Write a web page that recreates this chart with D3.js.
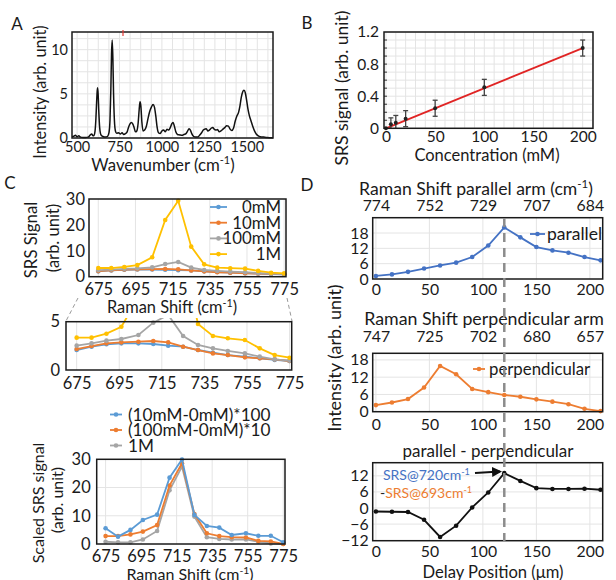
<!DOCTYPE html>
<html>
<head>
<meta charset="utf-8">
<script src="https://cdn.jsdelivr.net/npm/d3@7"></script>
<style>
body { margin: 0; background: #fff; }
text { font-family: Lato, "Liberation Sans", sans-serif; fill: #1a1a1a; }
</style>
</head>
<body>
<div id="fig"></div>
<script>
// ---- panel A: Raman spectrum (wavenumber, intensity) ----
var specPoints = [[470,0.15],[480,0.2],[490,0.3],[500,0.15],[510,0.25],[520,0.1],[535,0.05],[550,0.05],[565,0.1],[578,0.35],[586,0.45],[594,0.25],[600,0.3],[606,0.8],[611,2.2],[615,4.0],[619,5.4],[621,5.7],[624,5.0],[628,3.0],[633,1.2],[638,0.5],[645,0.25],[655,0.15],[668,0.1],[680,0.2],[688,0.6],[694,2.0],[699,5.5],[703,9.5],[707,11.1],[711,9.0],[715,5.0],[720,2.0],[726,0.8],[733,0.55],[745,0.6],[755,0.45],[765,0.6],[775,0.4],[785,0.5],[795,0.7],[803,1.2],[812,1.6],[820,1.75],[828,1.6],[836,1.2],[844,0.7],[852,0.8],[860,1.7],[866,3.2],[871,4.1],[876,3.6],[882,1.8],[889,0.8],[898,0.9],[908,1.3],[918,2.2],[928,3.0],[938,3.5],[948,3.8],[956,3.5],[964,2.5],[972,1.2],[980,0.6],[990,0.5],[1000,0.8],[1010,0.9],[1020,0.7],[1030,1.0],[1040,0.9],[1050,1.2],[1058,1.6],[1066,1.75],[1074,1.3],[1082,0.7],[1092,0.4],[1105,0.35],[1118,0.3],[1130,0.4],[1142,0.5],[1152,0.8],[1160,1.05],[1168,0.9],[1176,0.5],[1186,0.2],[1198,0.1],[1210,0.1],[1222,0.3],[1234,0.6],[1244,0.9],[1254,1.0],[1262,1.05],[1270,0.8],[1280,0.9],[1290,1.1],[1300,1.2],[1308,1.0],[1318,0.9],[1328,0.95],[1338,0.7],[1348,0.8],[1360,1.0],[1372,1.2],[1382,1.4],[1392,1.35],[1402,1.0],[1412,0.85],[1422,1.1],[1432,1.9],[1442,2.5],[1452,2.9],[1460,3.6],[1468,4.6],[1476,5.2],[1484,5.4],[1492,5.1],[1500,4.2],[1508,3.2],[1516,2.5],[1526,1.9],[1536,1.3],[1546,0.8],[1556,0.45],[1568,0.25],[1580,0.15],[1600,0.1],[1620,0.05],[1640,0.03],[1655,0.02]];
var specXTicks = [500, 750, 1000, 1250, 1500];
var specYTicks = [0, 5, 10];

// ---- panel B: concentration series ----
var concentration = [0, 5, 10, 20, 50, 100, 200];
var srsSignal = [0, 0.05, 0.07, 0.12, 0.25, 0.51, 1.0];
var srsError = [0, 0.08, 0.09, 0.1, 0.1, 0.1, 0.1];
var fitEnds = [0, 200];
var fitSlope = 0.005;

// ---- panel C ----
var ramanShift = [675, 682, 689, 696, 704, 711, 718, 725, 732, 739, 746, 754, 761, 768, 775];
var sig0mM   = [2.07, 2.41, 2.66, 2.76, 2.76, 2.69, 2.52, 2.41, 2.07, 1.79, 1.55, 1.38, 1.21, 1.04, 0.93];
var sig10mM  = [2.17, 2.48, 2.76, 2.86, 2.93, 3.0, 2.86, 2.41, 2.07, 1.72, 1.55, 1.31, 1.21, 1.10, 0.93];
var sig100mM = [2.52, 2.76, 3.04, 3.21, 3.62, 4.9, 5.7, 3.52, 2.59, 2.24, 1.97, 1.72, 1.38, 1.10, 0.97];
var sig1M    = [3.35, 3.35, 3.76, 4.48, 7.5, 21.9, 29.3, 11.6, 4.76, 3.52, 3.28, 3.1, 2.24, 1.55, 1.27];
var scaled10  = [5.6, 2.6, 5.0, 8.5, 10.4, 23.5, 29.9, 10.3, 6.4, 5.8, 3.2, 3.8, 2.9, 2.9, 0.6];
var scaled100 = [2.8, 2.8, 3.4, 4.4, 6.7, 20.7, 28.6, 10.6, 3.8, 2.8, 2.4, 2.3, 1.1, 0.9, 0.0];
var scaled1M  = [0.8, 0.6, 0.6, 1.6, 4.6, 19.0, 27.4, 9.7, 2.4, 1.8, 1.6, 1.6, 0.8, 0.2, 0.0];
var shiftTicks = [675, 695, 715, 735, 755, 775];
var concNames = ["0mM", "10mM", "100mM", "1M"];
var scaledNames = ["(10mM-0mM)*100", "(100mM-0mM)*10", "1M"];

// ---- panel D ----
var delayPos = [0, 15, 30, 45, 60, 75, 90, 105, 120, 135, 150, 165, 180, 195, 210];
var parallelSig = [1.2, 1.8, 2.8, 4.1, 5.3, 6.4, 8.6, 13.1, 20.2, 16.3, 12.5, 11.2, 10.3, 8.6, 7.3];
var perpSig = [2.3, 3.2, 4.4, 8.4, 15.9, 13.0, 7.9, 6.8, 5.8, 5.2, 4.3, 3.5, 2.6, 1.0, 0.2];
var diffSig = [-1.3, -1.4, -1.5, -4.4, -10.8, -6.6, 0.2, 5.8, 13.0, 10.1, 7.4, 7.1, 7.1, 7.2, 6.8];
var delayTicks = [0, 50, 100, 150, 200];
var parallelShiftLabels = ["774", "752", "729", "707", "684"];
var perpShiftLabels = ["747", "725", "702", "680", "657"];
var peakDelay = 120;

var cBlue = "#5b9bd5", cOrange = "#ed7d31", cGray = "#a5a5a5", cYellow = "#ffc000", cDarkBlue = "#4472c4";

var svg = d3.select("#fig").append("svg")
    .attr("width", 616)
    .attr("height", 580);

svg.append("defs").append("marker")
    .attr("id", "arrow")
    .attr("viewBox", "0 0 10 10")
    .attr("refX", 8).attr("refY", 5)
    .attr("markerWidth", 5).attr("markerHeight", 5)
    .attr("orient", "auto")
  .append("path")
    .attr("d", "M0,0L10,5L0,10z")
    .attr("fill", "#111");

// text with optional superscript parts: ["Wavenumber (cm", ["-1"], ")"]
function addText(x, y, parts, opt) {
  opt = opt || {};
  var fs = opt.size || 15;
  var t = svg.append("text")
      .attr("font-size", fs)
      .attr("text-anchor", opt.anchor || "middle")
      .attr("dy", "0.35em");
  if (opt.rotate) t.attr("transform", "translate(" + x + "," + y + ") rotate(-90)");
  else t.attr("x", x).attr("y", y);
  if (typeof parts === "string") parts = [parts];
  var up = false;
  parts.forEach(function(p) {
    var s = t.append("tspan");
    if (Array.isArray(p)) {
      s.text(p[0]).attr("font-size", fs * 0.65).attr("dy", -fs * 0.38);
      up = true;
    } else {
      s.text(p);
      if (up) { s.attr("dy", fs * 0.38); up = false; }
    }
    if (opt.fill) s.style("fill", opt.fill);
  });
  return t;
}

// plot box with grid and tick labels, returns scales
function panel(p) {
  var x = d3.scaleLinear().domain(p.xd).range([p.x0, p.x1]);
  var y = d3.scaleLinear().domain(p.yd).range([p.y1, p.y0]);
  var g = svg.append("g");

  g.selectAll(".gx").data(p.gx || []).enter().append("line")
      .attr("x1", function(d) { return x(d); }).attr("x2", function(d) { return x(d); })
      .attr("y1", p.y0).attr("y2", p.y1)
      .attr("stroke", "#e4e4e4").attr("stroke-width", 1);
  g.selectAll(".gy").data(p.gy || []).enter().append("line")
      .attr("y1", function(d) { return y(d); }).attr("y2", function(d) { return y(d); })
      .attr("x1", p.x0).attr("x2", p.x1)
      .attr("stroke", "#e4e4e4").attr("stroke-width", 1);

  var xa = g.append("g")
      .attr("transform", "translate(0," + p.y1 + ")")
      .call(d3.axisBottom(x).tickValues(p.xt).tickSize(0).tickPadding(p.xpad).tickFormat(p.xf || d3.format("d")));
  var ya = g.append("g")
      .attr("transform", "translate(" + p.x0 + ",0)")
      .call(d3.axisLeft(y).tickValues(p.yt).tickSize(0).tickPadding(p.ypad).tickFormat(p.yf || d3.format("d")));
  [xa, ya].forEach(function(a) {
    a.attr("font-family", null).attr("font-size", p.fs);
    a.select(".domain").remove();
    a.selectAll("text").style("fill", "#1a1a1a");
  });

  if (p.top) {
    var ta = g.append("g")
        .attr("transform", "translate(0," + p.y0 + ")")
        .call(d3.axisTop(x).tickValues(p.xt).tickSize(0).tickPadding(p.tpad)
          .tickFormat(function(d, i) { return p.top[i]; }));
    ta.attr("font-family", null).attr("font-size", p.fs);
    ta.select(".domain").remove();
    ta.selectAll("text").style("fill", "#1a1a1a");
  }

  var plot = g.append("g");
  g.append("rect")
      .attr("x", p.x0).attr("y", p.y0)
      .attr("width", p.x1 - p.x0).attr("height", p.y1 - p.y0)
      .attr("fill", "none").attr("stroke", "#1a1a1a").attr("stroke-width", 1.5);
  return {g: plot, x: x, y: y};
}

function series(pl, xs, ys, color, clip) {
  var pts = xs.map(function(d, i) { return [d, ys[i]]; });
  var grp = pl.g.append("g");
  if (clip) grp.attr("clip-path", "url(#" + clip + ")");
  grp.append("path")
      .datum(pts)
      .attr("fill", "none")
      .attr("stroke", color)
      .attr("stroke-width", 1.8)
      .attr("d", d3.line().x(function(d) { return pl.x(d[0]); }).y(function(d) { return pl.y(d[1]); }));
  grp.selectAll("circle").data(pts).enter().append("circle")
      .attr("cx", function(d) { return pl.x(d[0]); })
      .attr("cy", function(d) { return pl.y(d[1]); })
      .attr("r", 2.3)
      .attr("fill", color);
}

function legendMark(x, y, color, w) {
  svg.append("line").attr("x1", x).attr("x2", x + w).attr("y1", y).attr("y2", y)
      .attr("stroke", color).attr("stroke-width", 1.8);
  svg.append("circle").attr("cx", x + w / 2).attr("cy", y).attr("r", 2.3).attr("fill", color);
}

// ================= A =================
var pA = panel({x0: 72, x1: 273, y0: 32, y1: 138, xd: [470, 1655], yd: [0, 12],
  xt: specXTicks, yt: specYTicks, fs: 14.5, xpad: 4, ypad: 4,
  gx: d3.range(500, 1655, 62.5), gy: d3.range(0, 12.1, 1.25)});
pA.g.append("path")
    .datum(specPoints)
    .attr("fill", "none")
    .attr("stroke", "#111")
    .attr("stroke-width", 1.5)
    .attr("stroke-linejoin", "round")
    .attr("d", d3.line().curve(d3.curveMonotoneX).x(function(d) { return pA.x(d[0]); }).y(function(d) { return pA.y(d[1]); }));
svg.append("line").attr("x1", 123).attr("x2", 123).attr("y1", 30).attr("y2", 36)
    .attr("stroke", "#e53935").attr("stroke-width", 1.2);
addText(17, 24, "A", {size: 17});
addText(40, 92, "Intensity (arb. unit)", {size: 16.3, rotate: true});
addText(163, 165, ["Wavenumber (cm", ["-1"], ")"], {size: 16.8});

// ================= B =================
var pB = panel({x0: 384, x1: 593, y0: 32, y1: 128.3, xd: [-2, 210.5], yd: [0, 1.2],
  xt: [0, 50, 100, 150, 200], yt: [0, 0.4, 0.8, 1.2], fs: 15.5, xpad: 3, ypad: 5,
  yf: function(d) { return d === 0 ? "0" : d3.format(".1f")(d); },
  gx: d3.range(0, 211, 10), gy: d3.range(0, 1.21, 0.1)});
pB.g.selectAll(".tk").data(d3.range(0.1, 1.2, 0.1)).enter().append("line")
    .attr("x1", 384).attr("x2", 387)
    .attr("y1", function(d) { return pB.y(d); }).attr("y2", function(d) { return pB.y(d); })
    .attr("stroke", "#333");
pB.g.append("line")
    .attr("x1", pB.x(fitEnds[0])).attr("y1", pB.y(fitEnds[0] * fitSlope))
    .attr("x2", pB.x(fitEnds[1])).attr("y2", pB.y(fitEnds[1] * fitSlope))
    .attr("stroke", "#e02424").attr("stroke-width", 1.8);
var eb = pB.g.selectAll(".eb").data(concentration).enter().append("g");
eb.append("line")
    .attr("x1", function(d) { return pB.x(d); }).attr("x2", function(d) { return pB.x(d); })
    .attr("y1", function(d, i) { return pB.y(Math.max(0, srsSignal[i] - srsError[i])); })
    .attr("y2", function(d, i) { return pB.y(srsSignal[i] + srsError[i]); })
    .attr("stroke", "#444").attr("stroke-width", 1.3);
[-1, 1].forEach(function(s) {
  eb.filter(function(d, i) { return srsError[i] > 0 && srsSignal[i] + s * srsError[i] > 0; }).append("line")
      .attr("x1", function(d) { return pB.x(d) - 2.5; }).attr("x2", function(d) { return pB.x(d) + 2.5; })
      .attr("y1", function(d) { var i = concentration.indexOf(d); return pB.y(srsSignal[i] + s * srsError[i]); })
      .attr("y2", function(d) { var i = concentration.indexOf(d); return pB.y(srsSignal[i] + s * srsError[i]); })
      .attr("stroke", "#444").attr("stroke-width", 1.3);
});
eb.append("circle")
    .attr("cx", function(d) { return pB.x(d); })
    .attr("cy", function(d, i) { return pB.y(srsSignal[i]); })
    .attr("r", 2).attr("fill", "#222");
addText(307, 23, "B", {size: 17});
addText(342, 88, "SRS signal (arb. unit)", {size: 17.5, rotate: true});
addText(487, 155, "Concentration (mM)", {size: 16.5});

// ================= C =================
var pC1 = panel({x0: 89, x1: 286, y0: 199, y1: 276.7, xd: [670, 776], yd: [0, 30],
  xt: shiftTicks, yt: [0, 10, 20, 30], fs: 16.5, xpad: 7, ypad: 4, gx: shiftTicks});
series(pC1, ramanShift, sig0mM, cBlue);
series(pC1, ramanShift, sig10mM, cOrange);
series(pC1, ramanShift, sig100mM, cGray);
series(pC1, ramanShift, sig1M, cYellow);
[cBlue, cOrange, cGray, cYellow].forEach(function(c, i) {
  legendMark(210, 207 + i * 15.7, c, 17);
  addText(281, 207 + i * 15.7, concNames[i], {size: 16.8, anchor: "end"});
});
addText(10, 183, "C", {size: 17});
addText(31, 240, "SRS Signal", {size: 16.8, rotate: true});
addText(53, 238, "(arb. unit)", {size: 16.5, rotate: true});
addText(172, 307, ["Raman Shift (cm", ["-1"], ")"], {size: 16.4});

// zoom connectors
svg.append("line").attr("x1", 78).attr("y1", 298).attr("x2", 66).attr("y2", 321)
    .attr("stroke", "#999").attr("stroke-dasharray", "4,3");
svg.append("line").attr("x1", 287).attr("y1", 298).attr("x2", 292).attr("y2", 321)
    .attr("stroke", "#999").attr("stroke-dasharray", "4,3");

var pC2 = panel({x0: 66, x1: 291.7, y0: 321.7, y1: 370, xd: [670, 776], yd: [0, 5],
  xt: shiftTicks, yt: [0, 5], fs: 16.5, xpad: 7, ypad: 6, gx: shiftTicks});
svg.append("clipPath").attr("id", "clipC2").append("rect")
    .attr("x", 60).attr("y", 318).attr("width", 240).attr("height", 55);
series(pC2, ramanShift, sig0mM, cBlue, "clipC2");
series(pC2, ramanShift, sig10mM, cOrange, "clipC2");
series(pC2, ramanShift, sig100mM, cGray, "clipC2");
series(pC2, ramanShift, sig1M, cYellow, "clipC2");

[cBlue, cOrange, cGray].forEach(function(c, i) {
  legendMark(110, 414.5 + i * 15.5, c, 12);
  addText(128, 414.5 + i * 15.5, scaledNames[i], {size: 17.2, anchor: "start"});
});
var pC3 = panel({x0: 96.7, x1: 285, y0: 459.3, y1: 544, xd: [670, 776], yd: [0, 30],
  xt: shiftTicks, yt: [0, 10, 20, 30], fs: 16.5, xpad: 6, ypad: 6,
  gx: shiftTicks, gy: [10, 20]});
series(pC3, ramanShift, scaled1M, cGray);
series(pC3, ramanShift, scaled100, cOrange);
series(pC3, ramanShift, scaled10, cBlue);
addText(38, 503, "Scaled SRS signal", {size: 16, rotate: true});
addText(57, 500, "(arb. unit)", {size: 16, rotate: true});
addText(190, 574.5, ["Raman Shift (cm", ["-1"], ")"], {size: 16});

// ================= D =================
var pD1 = panel({x0: 372.7, x1: 602.7, y0: 217.7, y1: 279, xd: [-3, 212], yd: [0, 24],
  xt: delayTicks, yt: [0, 6, 12, 18], fs: 15.8, xpad: 5, ypad: 4, tpad: 7, top: parallelShiftLabels,
  gx: delayTicks, gy: [6, 12, 18]});
series(pD1, delayPos, parallelSig, cDarkBlue);
legendMark(530, 234, cDarkBlue, 15);
addText(547, 234, "parallel", {size: 17.5, anchor: "start"});
addText(476, 189, ["Raman Shift parallel arm (cm", ["-1"], ")"], {size: 17.6});

var pD2 = panel({x0: 372.7, x1: 602.7, y0: 353.3, y1: 411.7, xd: [-3, 212], yd: [0, 20.3],
  xt: delayTicks, yt: [0, 6, 12, 18], fs: 15.8, xpad: 7, ypad: 4, tpad: 11, top: perpShiftLabels,
  gx: delayTicks, gy: [6, 12, 18]});
series(pD2, delayPos, perpSig, cOrange);
legendMark(473, 369, cOrange, 12);
addText(489, 369, "perpendicular", {size: 16.8, anchor: "start"});
addText(484, 319, "Raman Shift perpendicular arm", {size: 17.8});

var pD3 = panel({x0: 372.7, x1: 602.7, y0: 462.7, y1: 540.7, xd: [-3, 212], yd: [-12.2, 16.9],
  xt: delayTicks, yt: [-12, -6, 0, 6, 12], fs: 15.8, xpad: 5, ypad: 4,
  gx: delayTicks, gy: [-6, 0, 6, 12]});
series(pD3, delayPos, diffSig, "#111");
addText(488, 451, "parallel - perpendicular", {size: 17});
addText(383, 475, ["SRS@720cm", ["-1"]], {size: 14, anchor: "start", fill: cDarkBlue});
var t693 = addText(380, 493, "-", {size: 14, anchor: "start"});
t693.append("tspan").text("SRS@693cm").style("fill", cOrange);
t693.append("tspan").text("-1").attr("font-size", 14 * 0.65).attr("dy", -14 * 0.38).style("fill", cOrange);
svg.append("line")
    .attr("x1", 475).attr("y1", 473).attr("x2", 500).attr("y2", 471.5)
    .attr("stroke", "#111").attr("stroke-width", 2)
    .attr("marker-end", "url(#arrow)");
addText(493, 572, "Delay Position (\u03bcm)", {size: 16.6});
addText(307, 185, "D", {size: 17});
addText(335, 358, "Intensity (arb. unit)", {size: 18, rotate: true});

// dashed marker through all D panels
svg.append("line")
    .attr("x1", pD1.x(peakDelay)).attr("x2", pD1.x(peakDelay))
    .attr("y1", 218).attr("y2", 541)
    .attr("stroke", "#8c8c8c").attr("stroke-width", 2.5)
    .attr("stroke-dasharray", "9,6");
</script>
</body>
</html>
